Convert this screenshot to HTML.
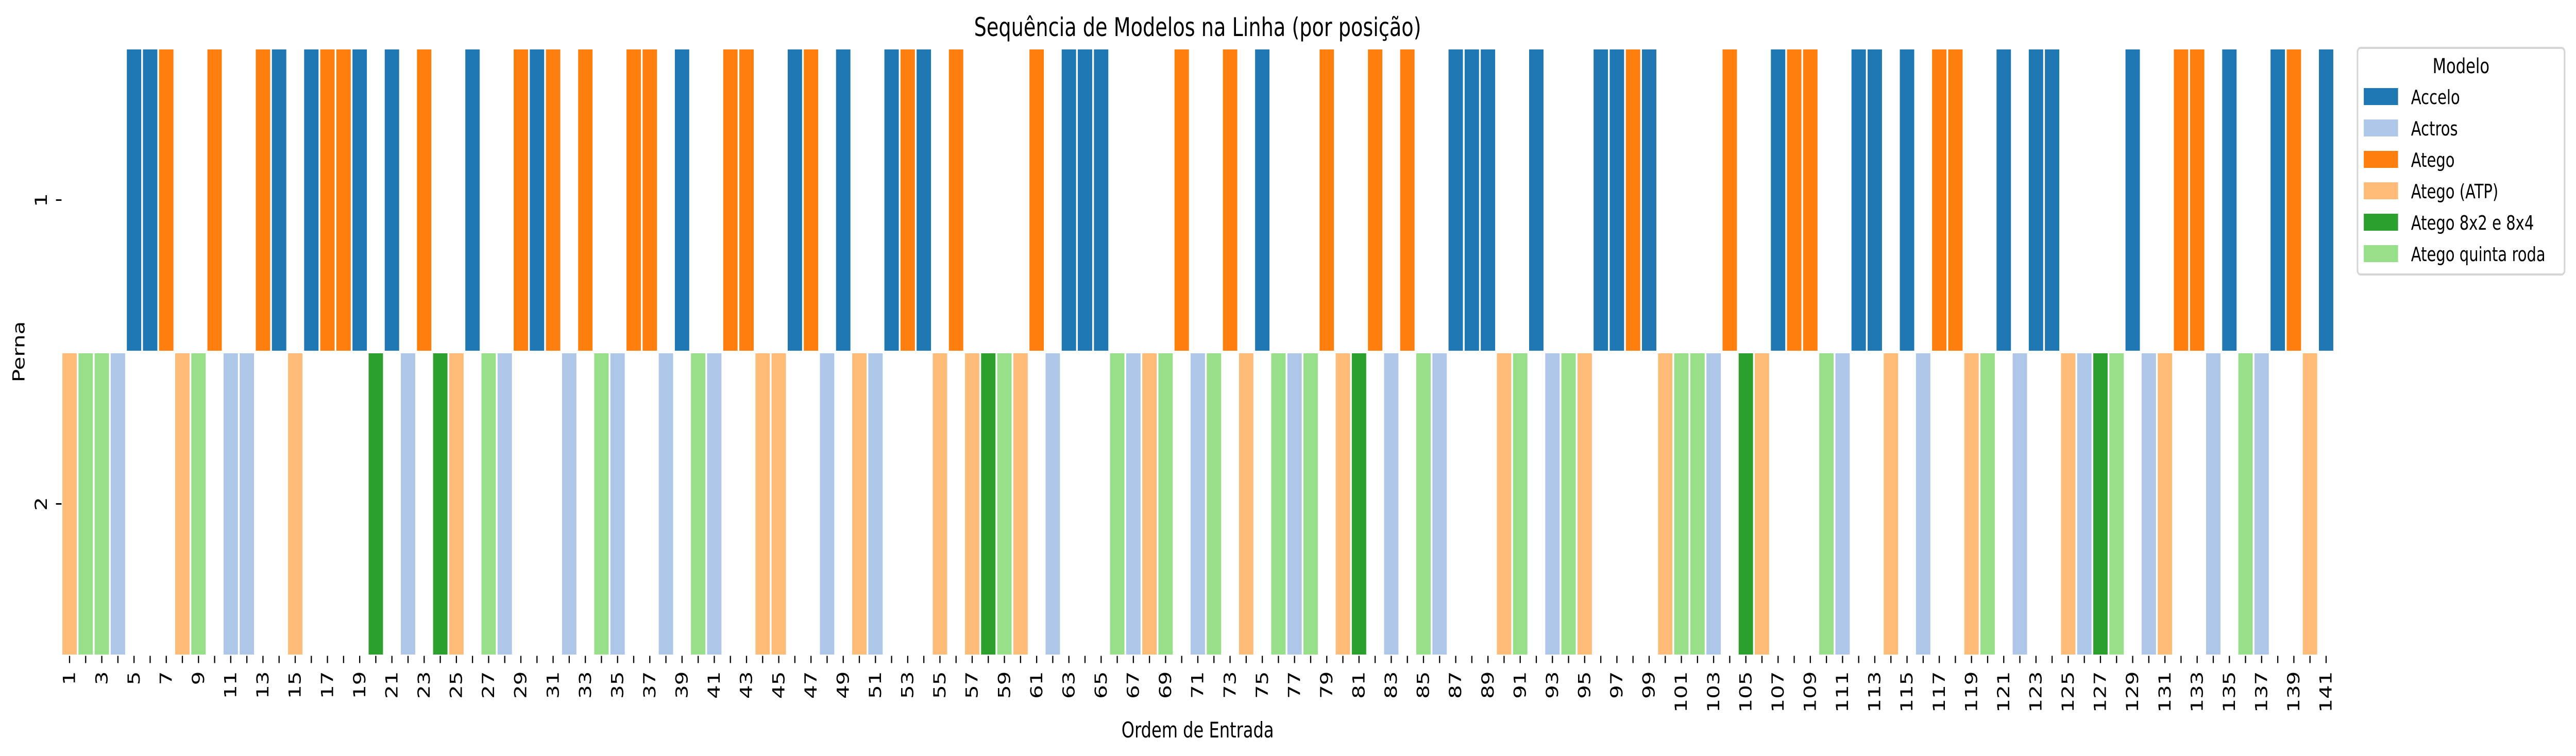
<!DOCTYPE html>
<html><head><meta charset="utf-8"><style>
html,body{margin:0;padding:0;background:#fff;width:100%;height:100%;overflow:hidden}
svg{display:block;width:100vw;height:100vh;font-family:"DejaVu Sans","Liberation Sans",sans-serif}
</style></head><body>
<svg id="chart" viewBox="0 0 6543 1468" preserveAspectRatio="none" xmlns="http://www.w3.org/2000/svg">
<text x="3042" y="70" font-size="50" text-anchor="middle">Sequência de Modelos na Linha (por posição)</text>
<g id="cells"></g>
<g id="xaxis"></g>
<g id="yaxis"></g>
<text x="3042" y="1432" font-size="42" text-anchor="middle">Ordem de Entrada</text>
<text transform="translate(62,683) rotate(-90)" font-size="42" text-anchor="middle">Perna</text>
<g id="legend">
<rect x="5988" y="93" width="526" height="440" rx="8" fill="#fff" stroke="#d6d6d6" stroke-width="4"/>
<text x="6251" y="142" font-size="40" text-anchor="middle">Modelo</text>
</g>
</svg>
<script>
const models = ["Accelo","Actros","Atego","Atego (ATP)","Atego 8x2 e 8x4","Atego quinta roda"];
const modelColors = ["#1f77b4","#aec7e8","#ff7f0e","#ffbb78","#2ca02c","#98df8a"];
const modelCodes = ["A","R","G","P","V","Q"];
const sequence = ("PQQRAAGPQG"+"RRGAPAGGAV"+"ARGVPAQRGA"+"GRGQRGGRAQ"+"RGGPPAGRAP"+
  "RAGAPGPVQP"+"GRAAAQRPQG"+"RQGPAQRQGP"+"VGRGQRAAAP"+"QARQPAAGAP"+
  "QQRGVPAGGQ"+"RAAPARGGPQ"+"ARAAPRVQAR"+"PGGRAQRAGP"+"A").split("");
const perna = ("2222111221"+"2211211112"+"1212212211"+"1212211212"+"2112211212"+
  "2111212222"+"1211122221"+"2212122212"+"2121221112"+"2122211112"+
  "2221221112"+"2112121122"+"1211222212"+"2112122112"+"1").split("").map(Number);
const rowLabels = ["1","2"];

const NS="http://www.w3.org/2000/svg";
const x0=156.2, cw=40.94, y0=93.5, rh=590;
const xs = p => x0+(p-1)*cw;
const ys = r => y0+(r-1)*rh;
const cells=document.getElementById('cells');
sequence.forEach((code,i)=>{
  const m=modelCodes.indexOf(code);
  const r=document.createElementNS(NS,'rect');
  r.setAttribute('x',xs(i+1)+2.2);
  r.setAttribute('y',ys(perna[i])+2.5);
  r.setAttribute('width',cw-4.4);
  r.setAttribute('height',rh-5);
  r.setAttribute('fill',modelColors[m]);
  
  
  cells.appendChild(r);
});
const xa=document.getElementById('xaxis');
const yBot=y0+2*rh;
for(let p=1;p<=sequence.length;p++){
  const cx=xs(p)+cw/2;
  const t=document.createElementNS(NS,'line');
  t.setAttribute('x1',cx);t.setAttribute('x2',cx);
  t.setAttribute('y1',yBot);t.setAttribute('y2',yBot+14);
  t.setAttribute('stroke','#000');t.setAttribute('stroke-width','3');
  
  
  xa.appendChild(t);
  if(p%2===1){
    const tx=document.createElementNS(NS,'text');
    tx.setAttribute('transform','translate('+(cx+14)+','+(yBot+30)+') rotate(-90)');
    tx.setAttribute('font-size','42');
    tx.setAttribute('text-anchor','end');
    tx.textContent=String(p);
    
    
    xa.appendChild(tx);
  }
}
const ya=document.getElementById('yaxis');
rowLabels.forEach((lab,i)=>{
  const cy=ys(i+1)+rh/2;
  const t=document.createElementNS(NS,'line');
  t.setAttribute('x1',x0-14);t.setAttribute('x2',x0);
  t.setAttribute('y1',cy);t.setAttribute('y2',cy);
  t.setAttribute('stroke','#000');t.setAttribute('stroke-width','3');
  
  
  ya.appendChild(t);
  const tx=document.createElementNS(NS,'text');
  tx.setAttribute('transform','translate(119,'+cy+') rotate(-90)');
  tx.setAttribute('font-size','42');
  tx.setAttribute('text-anchor','middle');
  tx.textContent=lab;
  
  
  ya.appendChild(tx);
});
const lg=document.getElementById('legend');
models.forEach((m,i)=>{
  const cy=188+i*61;
  const r=document.createElementNS(NS,'rect');
  r.setAttribute('x',6004);r.setAttribute('y',cy-17);
  r.setAttribute('width',87);r.setAttribute('height',33);
  r.setAttribute('fill',modelColors[i]);
  
  
  lg.appendChild(r);
  const tx=document.createElementNS(NS,'text');
  tx.setAttribute('x',6124);tx.setAttribute('y',cy+14);
  tx.setAttribute('font-size','38');
  tx.textContent=m;
  
  
  lg.appendChild(tx);
});
</script>
</body></html>
